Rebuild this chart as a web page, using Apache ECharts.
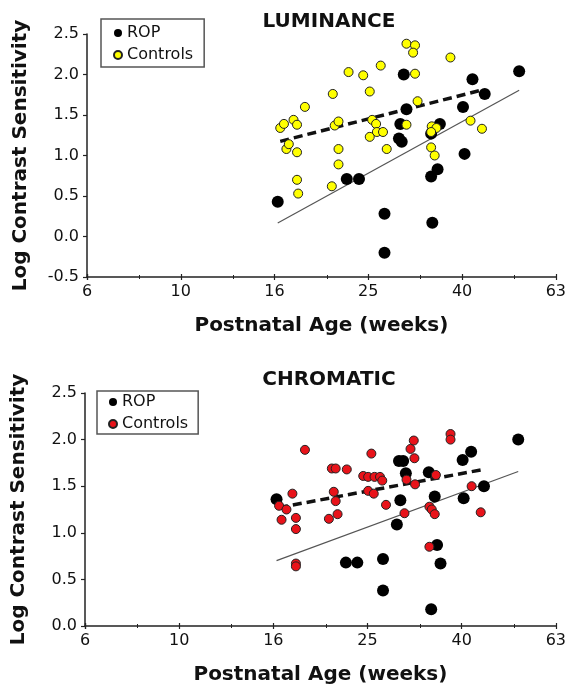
<!DOCTYPE html>
<html><head><meta charset="utf-8">
<script src="https://cdn.jsdelivr.net/npm/echarts@6/dist/echarts.min.js"></script>
<style>html,body{margin:0;padding:0;background:#fff}#c{width:569px;height:687px}</style>
</head><body><div id="c"></div>
<script>
// Tick labels
const xTickLabels = ['6', '10', '16', '25', '40', '63'];
const yTickLabelsLum = ['-0.5', '0.0', '0.5', '1.0', '1.5', '2.0', '2.5'];
const yTickLabelsChr = ['0.0', '0.5', '1.0', '1.5', '2.0', '2.5'];

// LUMINANCE panel: [age in weeks, log contrast sensitivity]
const lumRop = [[16.1,0.43],[22.6,0.71],[24.0,0.71],[27.2,0.28],[27.2,-0.20],[29.9,2.00],[30.3,1.57],[29.4,1.39],[29.2,1.21],[29.6,1.17],[34.2,1.27],[35.7,1.39],[34.2,0.74],[35.3,0.83],[34.4,0.17],[40.0,1.60],[40.3,1.02],[41.9,1.94],[44.5,1.76],[52.7,2.04]];
const lumControls = [[16.3,1.34],[16.6,1.39],[17.4,1.44],[17.7,1.38],[16.8,1.08],[17.0,1.14],[17.7,1.04],[17.7,0.70],[17.8,0.53],[18.4,1.60],[21.1,1.76],[22.8,2.03],[21.3,1.37],[21.7,1.42],[21.7,1.08],[21.7,0.89],[21.0,0.62],[24.5,1.99],[25.3,1.79],[25.6,1.44],[26.1,1.39],[26.2,1.29],[27.0,1.29],[25.3,1.23],[27.5,1.08],[26.7,2.11],[30.3,2.38],[31.6,2.36],[31.3,2.27],[31.6,2.01],[32.0,1.67],[30.3,1.38],[34.3,1.36],[35.1,1.34],[34.2,1.29],[34.2,1.10],[34.8,1.00],[37.6,2.21],[41.5,1.43],[43.9,1.33]];
const lumControlsFit = [[16.3,1.175],[44.2,1.813]];
const lumRopFit = [[16.1,0.167],[52.7,1.805]];

// CHROMATIC panel
const chrRop = [[16.1,1.36],[22.6,0.68],[23.9,0.68],[27.1,0.72],[27.1,0.38],[29.0,1.09],[29.5,1.35],[29.3,1.77],[29.9,1.77],[30.3,1.64],[33.9,1.65],[34.9,1.39],[35.3,0.87],[35.9,0.67],[34.3,0.18],[40.0,1.78],[41.7,1.87],[40.2,1.37],[44.4,1.50],[52.5,2.00]];
const chrControls = [[16.3,1.29],[16.9,1.25],[16.5,1.14],[17.4,1.42],[17.7,1.16],[17.7,1.04],[17.7,0.67],[17.7,0.64],[18.5,1.89],[21.1,1.69],[21.5,1.69],[22.7,1.68],[21.3,1.44],[21.5,1.34],[21.7,1.20],[20.8,1.15],[25.6,1.85],[24.6,1.61],[25.2,1.60],[26.0,1.60],[26.7,1.60],[27.0,1.56],[25.2,1.45],[25.9,1.42],[27.5,1.30],[30.1,1.21],[30.4,1.57],[31.7,1.52],[31.0,1.90],[31.5,1.99],[31.6,1.80],[35.1,1.62],[34.0,1.28],[34.4,1.25],[34.9,1.20],[34.0,0.85],[37.7,2.06],[37.7,2.00],[41.8,1.50],[43.7,1.22]];
const chrControlsFit = [[16.3,1.271],[43.9,1.676]];
const chrRopFit = [[16.1,0.702],[52.5,1.658]];

const FONT = 'DejaVu Sans';
const LOG_BASE = Math.pow(10, 0.2);
const X_MIN = Math.pow(10, 0.8), X_MAX = Math.pow(10, 1.8);

function xLabel(v) {
  const k = Math.round(Math.log(v) / Math.log(LOG_BASE)) - 4;
  return xTickLabels[k] !== undefined ? xTickLabels[k] : '';
}
function xAxis(gridIndex) {
  return {
    type: 'log', gridIndex: gridIndex, logBase: LOG_BASE,
    min: X_MIN, max: X_MAX, splitNumber: 5,
    name: 'Postnatal Age (weeks)', nameLocation: 'middle', nameGap: 39,
    nameTextStyle: { fontFamily: FONT, fontWeight: 'bold', fontSize: 20, color: '#111' },
    axisLine: { show: true, onZero: false, lineStyle: { color: '#222', width: 1.5 } },
    axisTick: { show: true, length: 3, lineStyle: { color: '#222', width: 1.2 } },
    minorTick: { show: true, splitNumber: 2, length: 2, lineStyle: { color: '#222', width: 1 } },
    splitLine: { show: false }, minorSplitLine: { show: false },
    axisLabel: { fontFamily: FONT, fontSize: 16, color: '#111', margin: 7,
      showMinLabel: true, showMaxLabel: true, formatter: xLabel },
  };
}
function xAxisInner(gridIndex) {
  return {
    type: 'log', gridIndex: gridIndex, logBase: LOG_BASE, position: 'bottom',
    min: X_MIN, max: X_MAX, splitNumber: 5,
    axisLine: { show: false, onZero: false },
    axisTick: { show: true, inside: true, length: 3, lineStyle: { color: '#222', width: 1.2 } },
    minorTick: { show: true, splitNumber: 2, length: 2, lineStyle: { color: '#222', width: 1 } },
    splitLine: { show: false }, minorSplitLine: { show: false },
    axisLabel: { show: false },
  };
}
function yAxis(gridIndex, min, labels) {
  return {
    type: 'value', gridIndex: gridIndex, min: min, max: 2.5, interval: 0.5,
    name: 'Log Contrast Sensitivity', nameLocation: 'middle', nameGap: 56,
    nameTextStyle: { fontFamily: FONT, fontWeight: 'bold', fontSize: 20, color: '#111' },
    axisLine: { show: true, lineStyle: { color: '#222', width: 1.5 } },
    axisTick: { show: true, length: 4, lineStyle: { color: '#222', width: 1.2 } },
    splitLine: { show: false },
    axisLabel: { fontFamily: FONT, fontSize: 16, color: '#111', margin: 8,
      formatter: (v, i) => labels[i] },
  };
}
function scatter(name, data, idx, color, size, border, z) {
  return { type: 'scatter', name: name, xAxisIndex: idx, yAxisIndex: idx, data: data,
    symbolSize: size, z: z,
    itemStyle: { color: color, borderColor: border ? '#222' : color, borderWidth: border ? 1 : 0, opacity: 1 } };
}
function fit(name, data, idx, dashed) {
  return { type: 'line', name: name, xAxisIndex: idx, yAxisIndex: idx, data: data,
    symbol: 'none', z: 2, silent: true,
    lineStyle: dashed ? { color: '#111', width: 3.5, type: [9, 5] } : { color: '#555', width: 1.2 } };
}
function legend(left, top, names, pad) {
  return { left: left, top: top, orient: 'vertical', data: names, icon: 'circle',
    itemWidth: 8, itemHeight: 8, itemGap: 6,
    padding: pad, borderColor: '#555', borderWidth: 1.5, backgroundColor: '#fff',
    textStyle: { fontFamily: FONT, fontSize: 16, color: '#111' },
    formatter: n => n.split('|')[0] };
}

const chart = echarts.init(document.getElementById('c'), null, { renderer: 'canvas' });
chart.setOption({
  animation: false,
  backgroundColor: '#fff',
  title: [
    { text: 'LUMINANCE', left: 324, top: 7, textAlign: 'center',
      textStyle: { fontFamily: FONT, fontWeight: 'bold', fontSize: 20, color: '#111' } },
    { text: 'CHROMATIC', left: 324, top: 365, textAlign: 'center',
      textStyle: { fontFamily: FONT, fontWeight: 'bold', fontSize: 20, color: '#111' } },
  ],
  legend: [
    legend(101, 19, ['ROP|L', 'Controls|L'], [6, 11, 4, 12]),
    legend(97, 391, ['ROP|C', 'Controls|C'], [3, 10, 2, 11]),
  ],
  grid: [
    { left: 87, top: 34, width: 471, height: 243 },
    { left: 85, top: 393, width: 472, height: 233 },
  ],
  xAxis: [xAxis(0), xAxis(1), xAxisInner(0), xAxisInner(1)],
  yAxis: [yAxis(0, -0.5, yTickLabelsLum), yAxis(1, 0, yTickLabelsChr)],
  series: [
    fit('fitRopL', lumRopFit, 0, false),
    fit('fitCtrlL', lumControlsFit, 0, true),
    scatter('ROP|L', lumRop, 0, '#000', 12, false, 3),
    scatter('Controls|L', lumControls, 0, '#ffff00', 9, true, 4),
    fit('fitRopC', chrRopFit, 1, false),
    fit('fitCtrlC', chrControlsFit, 1, true),
    scatter('ROP|C', chrRop, 1, '#000', 12, false, 3),
    scatter('Controls|C', chrControls, 1, '#e8131a', 9, true, 4),
  ],
});
</script></body></html>
